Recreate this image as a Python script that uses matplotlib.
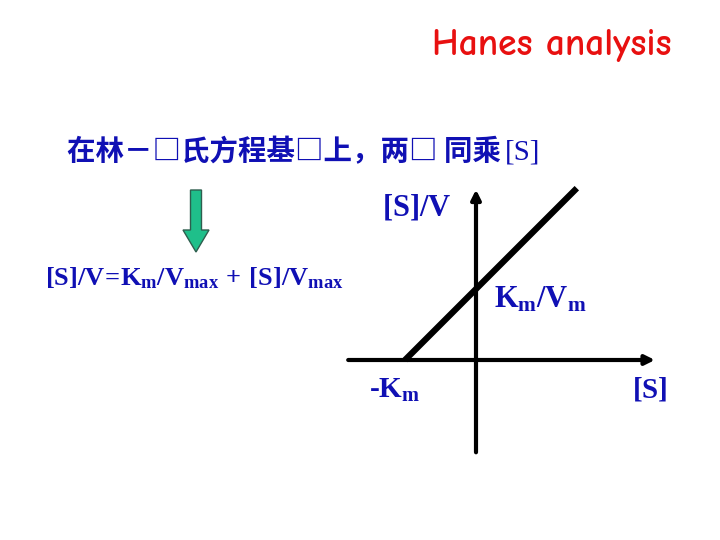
import matplotlib
matplotlib.use('Agg')
import matplotlib.pyplot as plt
from matplotlib.patches import FancyArrow

plt.rcParams['mathtext.fontset'] = 'custom'
plt.rcParams['mathtext.rm'] = 'Liberation Serif:bold'
plt.rcParams['mathtext.it'] = 'Liberation Serif:bold'
plt.rcParams['mathtext.bf'] = 'Liberation Serif:bold'

# schematic Hanes plot: [S]/V = Km/Vmax + [S]/Vmax
km = 1.0
vmax = 1.0
line_x = [-km, 1.42]
line_y = [(x + km) / vmax for x in line_x]

x_axis = [-1.8, 2.52]
y_axis = [-1.3, 2.4]

blue = '#1010b4'

fig = plt.figure(figsize=(7.2, 5.4), dpi=100)
ax = fig.add_axes([0, 0, 1, 1])
# origin at pixel (476, 360), 71 px per unit
u = 71.0
ax.set_xlim(-476 / u, (720 - 476) / u)
ax.set_ylim(-(540 - 360) / u, 360 / u)
ax.axis('off')

# axes with arrow heads
ax.annotate('', xy=(x_axis[1], 0), xytext=(x_axis[0], 0),
            arrowprops=dict(arrowstyle='-|>', color='black', lw=3,
                            mutation_scale=14, shrinkA=0, shrinkB=0))
ax.annotate('', xy=(0, y_axis[1]), xytext=(0, y_axis[0]),
            arrowprops=dict(arrowstyle='-|>', color='black', lw=3,
                            mutation_scale=14, shrinkA=0, shrinkB=0))
ax.plot(line_x, line_y, color='black', lw=4.5, solid_capstyle='butt')

# labels on the plot
ax.text(-0.34, 2.15, r'$\mathrm{[S]/V}$', color=blue, fontsize=22,
        ha='right', va='center')
ax.text(0.25, 0.85, r'$\mathrm{K_m/V_m}$', color=blue, fontsize=22,
        ha='left', va='center')
ax.text(-1.51, -0.42, r'$\mathrm{\text{-}K_m}$', color=blue, fontsize=21,
        ha='left', va='center')
ax.text(2.45, -0.42, r'$\mathrm{[S]}$', color=blue, fontsize=21,
        ha='center', va='center')

# slide text
fig.text(552 / 720, 1 - 46 / 540, 'Hanes analysis', color='#e81010',
         fontsize=27, fontweight='bold', ha='center', va='center',
         family=['Comic Neue', 'DejaVu Sans'])
fig.text(67 / 720, 1 - 152 / 540, '在林－□氏方程基□上，两□ 同乘',
         color=blue, fontsize=20.5, fontweight='bold', ha='left', va='center',
         family=['Noto Sans CJK SC', 'DejaVu Sans'])
fig.text(505 / 720, 1 - 152 / 540, '[S]', color=blue, fontsize=21,
         ha='left', va='center', family=['Liberation Serif'])
fig.text(45 / 720, 1 - 278 / 540,
         r'$\mathrm{[S]/V\!=\!K_m/V_{max}\,+\,[S]/V_{max}}$',
         color=blue, fontsize=19, ha='left', va='center')

# green arrow
arr = FancyArrow(196 / 720, 1 - 190 / 540, 0, -62 / 540, width=11 / 720,
                 head_width=26 / 720, head_length=22 / 540,
                 length_includes_head=True, transform=fig.transFigure,
                 facecolor='#1fbf8a', edgecolor='#2e5e4e', lw=1)
fig.add_artist(arr)

fig.savefig('out.png', dpi=100)
